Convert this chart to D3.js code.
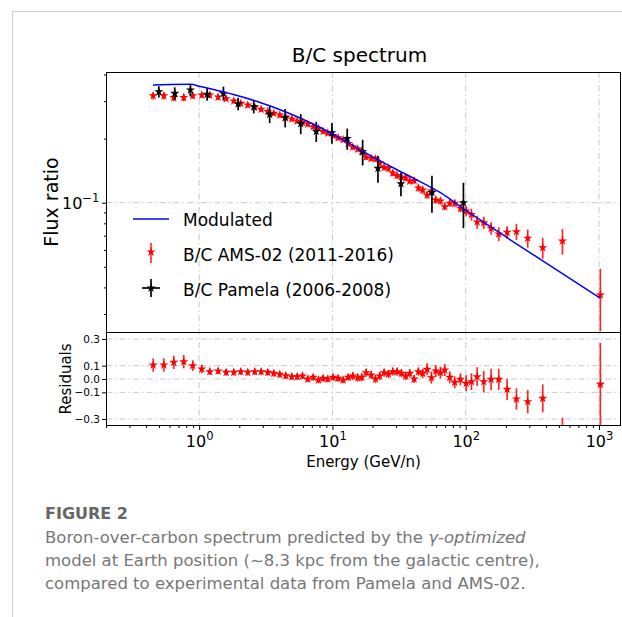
<!DOCTYPE html>
<html>
<head>
<meta charset="utf-8">
<script src="https://cdnjs.cloudflare.com/ajax/libs/d3/7.8.5/d3.min.js"></script>
<style>
body { margin: 0; background: #fff; }
svg { display: block; }
text { font-family: "DejaVu Sans", sans-serif; }
</style>
</head>
<body>
<div id="chart"></div>
<script>
// AMS-02 B/C (2011-2016): kinetic energy per nucleon (GeV/n), ratio, error
var amsE = [0.452,0.543,0.645,0.766,0.895,1.046,1.201,1.388,1.594,1.818,2.051,2.315,2.613,2.919,3.271,3.627,4.024,4.463,4.951,5.435,5.956,6.527,7.166,7.852,8.516,9.221,10.12,11.03,12.03,13.12,14.20,15.48,16.59,17.89,19.51,21.02,22.63,24.42,26.31,28.34,30.58,32.93,35.47,38.01,41.02,44.18,47.58,51.33,55.30,59.56,64.60,69.57,75.86,82.71,91.24,100.7,110.4,121.8,136.5,155.0,176.9,204.5,240.1,291.8,378.2,531.6,1024];
var amsBC = [0.3179,0.3179,0.3118,0.3118,0.3179,0.3203,0.3203,0.3135,0.3078,0.3003,0.2929,0.2875,0.2813,0.2744,0.2680,0.2631,0.2580,0.2525,0.2472,0.2419,0.2379,0.2341,0.2274,0.2230,0.2163,0.2124,0.2067,0.2017,0.1976,0.1896,0.1826,0.1787,0.1739,0.1639,0.1616,0.1607,0.1536,0.1466,0.1447,0.1378,0.1341,0.1320,0.1306,0.1264,0.1268,0.1172,0.1147,0.1087,0.1135,0.1030,0.1019,0.0958,0.0994,0.0994,0.0941,0.0914,0.0880,0.0812,0.0806,0.0758,0.0713,0.0726,0.0731,0.0681,0.0615,0.0661,0.0369];
var amsErr = [0.0127,0.0127,0.0125,0.0125,0.0105,0.0106,0.0106,0.0103,0.0083,0.0081,0.0079,0.0078,0.0076,0.0074,0.0072,0.0071,0.0070,0.0068,0.0067,0.0065,0.0064,0.0063,0.0061,0.0060,0.0058,0.0057,0.0056,0.0054,0.0053,0.0051,0.0060,0.0059,0.0057,0.0054,0.0053,0.0053,0.0051,0.0048,0.0048,0.0045,0.0044,0.0044,0.0043,0.0042,0.0042,0.0046,0.0045,0.0042,0.0044,0.0040,0.0040,0.0037,0.0039,0.0039,0.0041,0.0050,0.0057,0.0057,0.0054,0.0051,0.0053,0.0049,0.0064,0.0067,0.0070,0.0091,0.0120];
var amsRes = [0.105,0.105,0.125,0.13,0.10,0.075,0.055,0.06,0.05,0.05,0.055,0.05,0.055,0.055,0.05,0.0425,0.035,0.025,0.0175,0.0175,0.0225,0.0,0.0125,-0.0075,0.005,0.0,0.0125,0.005,-0.0075,0.0125,0.0225,0.01,0.0125,0.0475,0.03,0.0,0.0225,0.0475,0.0375,0.055,0.055,0.0425,0.0225,0.0425,0.0,0.055,0.0425,0.0725,0.01,0.06,0.0475,0.0675,0.0125,-0.025,-0.0025,-0.0325,-0.02,0.0175,-0.02,-0.0025,-0.0025,-0.0775,-0.15,-0.17,-0.145,-0.40,-0.04];
var amsResErr = [0.05,0.05,0.05,0.05,0.04,0.03,0.025,0.025,0.025,0.025,0.025,0.025,0.025,0.025,0.025,0.025,0.025,0.025,0.025,0.025,0.025,0.025,0.025,0.025,0.025,0.025,0.025,0.025,0.025,0.025,0.03,0.03,0.03,0.03,0.03,0.03,0.03,0.03,0.03,0.03,0.03,0.03,0.03,0.03,0.03,0.03,0.035,0.045,0.045,0.045,0.045,0.045,0.045,0.045,0.045,0.06,0.063,0.07,0.08,0.08,0.08,0.08,0.08,0.087,0.105,0.11,0.31];

// Pamela B/C (2006-2008)
var pamE = [0.498,0.656,0.860,1.148,1.521,1.961,2.568,3.380,4.418,5.783,7.559,9.913,12.91,16.85,21.95,32.65,55.78,96.1];
var pamBC = [0.3320,0.3263,0.3382,0.3231,0.3263,0.2913,0.2823,0.2600,0.2506,0.2353,0.2163,0.2131,0.2001,0.1735,0.1450,0.1228,0.1117,0.1000];
var pamErr = [0.0203,0.0219,0.0227,0.0216,0.0245,0.0195,0.0198,0.0234,0.0248,0.0254,0.0234,0.0237,0.0228,0.0239,0.0210,0.0155,0.0221,0.0241];

// modulated model curve
var modelE = [0.450,0.609,0.860,1.023,1.521,1.808,2.724,4.574,7.679,11.48,20.40,36.35,64.60,99.47,153.2,363.5,1024];
var modelBC = [0.3569,0.3588,0.3596,0.3511,0.3309,0.3221,0.2986,0.2651,0.2291,0.2005,0.1633,0.1349,0.1114,0.0924,0.0771,0.0542,0.0356];

// ticks
var xTicks = [1, 10, 100, 1000];
var xTickExp = ['0', '1', '2', '3'];
var yTicks = [0.1];
var yTickExp = ['\u22121'];
var resTicks = [0.3, 0.1, 0.0, -0.1, -0.3];
var resTickLabels = ['0.3', '0.1', '0.0', '\u22120.1', '\u22120.3'];
var legendLabels = ['Modulated', 'B/C AMS-02 (2011-2016)', 'B/C Pamela (2006-2008)'];
var captionLines = [
    [['Boron-over-carbon spectrum predicted by the ', false], ['\u03b3-optimized', true]],
    [['model at Earth position (~8.3 kpc from the galactic centre),', false]],
    [['compared to experimental data from Pamela and AMS-02.', false]]
];

var width = 622, height = 617;
var plot = {left: 106, right: 621, top: 72, mid: 332, bottom: 426};

var svg = d3.select('#chart').append('svg')
    .attr('width', width)
    .attr('height', height);

var x = d3.scaleLog().domain([0.2, 1462]).range([plot.left, plot.right]);
var y = d3.scaleLog().domain([0.0247, 0.411]).range([plot.mid, plot.top]);
var yRes = d3.scaleLinear().domain([-0.3525, 0.3525]).range([plot.bottom, plot.mid]);

// card border
svg.append('path')
    .attr('d', 'M12.5,617V11.5H622')
    .attr('fill', 'none')
    .attr('stroke', '#cfcfcf')
    .attr('stroke-width', 1);

svg.append('text')
    .attr('x', (plot.left + plot.right) / 2 - 4)
    .attr('y', 62)
    .attr('text-anchor', 'middle')
    .attr('font-size', 20)
    .text('B/C spectrum');

var defs = svg.append('defs');
defs.append('clipPath').attr('id', 'clipMain').append('rect')
    .attr('x', plot.left).attr('y', plot.top)
    .attr('width', plot.right - plot.left).attr('height', plot.mid - plot.top);
defs.append('clipPath').attr('id', 'clipRes').append('rect')
    .attr('x', plot.left).attr('y', plot.mid)
    .attr('width', plot.right - plot.left).attr('height', plot.bottom - plot.mid);

var gridDash = '6,3,1.5,3';
var gridColor = '#c9c9c9';

// grid lines
var grid = svg.append('g');
grid.selectAll('.vgrid')
    .data(xTicks)
    .enter().append('line')
    .attr('x1', function (d) { return x(d); })
    .attr('x2', function (d) { return x(d); })
    .attr('y1', plot.top)
    .attr('y2', plot.bottom);
grid.selectAll('.hgrid')
    .data(yTicks)
    .enter().append('line')
    .attr('x1', plot.left).attr('x2', plot.right)
    .attr('y1', function (d) { return y(d); })
    .attr('y2', function (d) { return y(d); });
grid.selectAll('.rgrid')
    .data(resTicks)
    .enter().append('line')
    .attr('x1', plot.left).attr('x2', plot.right)
    .attr('y1', function (d) { return yRes(d); })
    .attr('y2', function (d) { return yRes(d); });
grid.selectAll('line')
    .attr('stroke', gridColor)
    .attr('stroke-width', 1)
    .attr('stroke-dasharray', gridDash);

var star = d3.symbol().type(d3.symbolStar).size(26);

function drawErrorPoints(g, xs, ys, errs, yScale, color, barOpacity, isLog) {
    var pts = xs.map(function (e, i) { return {e: e, v: ys[i], err: errs[i]}; });
    g.selectAll('.bar')
        .data(pts)
        .enter().append('line')
        .attr('x1', function (d) { return x(d.e); })
        .attr('x2', function (d) { return x(d.e); })
        .attr('y1', function (d) { return yScale(d.v + d.err); })
        .attr('y2', function (d) {
            var lo = d.v - d.err;
            return yScale(isLog ? Math.max(lo, 1e-4) : lo);
        })
        .attr('stroke', color)
        .attr('stroke-opacity', barOpacity)
        .attr('stroke-width', 1.7);
    g.selectAll('.pt')
        .data(pts)
        .enter().append('path')
        .attr('d', star)
        .attr('transform', function (d) { return 'translate(' + x(d.e) + ',' + yScale(d.v) + ')'; })
        .attr('fill', color);
}

// main panel
var main = svg.append('g').attr('clip-path', 'url(#clipMain)');
drawErrorPoints(main.append('g'), amsE, amsBC, amsErr, y, '#ff0000', 0.85, true);
drawErrorPoints(main.append('g'), pamE, pamBC, pamErr, y, '#000000', 1, true);

var line = d3.line()
    .x(function (d) { return x(d[0]); })
    .y(function (d) { return y(d[1]); })
    .curve(d3.curveMonotoneX);
main.append('path')
    .datum(modelE.map(function (e, i) { return [e, modelBC[i]]; }))
    .attr('d', line)
    .attr('fill', 'none')
    .attr('stroke', '#0000ff')
    .attr('stroke-width', 1.5);

// residual panel
var res = svg.append('g').attr('clip-path', 'url(#clipRes)');
drawErrorPoints(res.append('g'), amsE, amsRes, amsResErr, yRes, '#ff0000', 0.85, false);

// frames
svg.append('rect')
    .attr('x', plot.left + 0.5).attr('y', plot.top + 0.5)
    .attr('width', plot.right - plot.left - 1).attr('height', plot.mid - plot.top)
    .attr('fill', 'none').attr('stroke', '#000').attr('stroke-width', 1);
svg.append('rect')
    .attr('x', plot.left + 0.5).attr('y', plot.mid + 0.5)
    .attr('width', plot.right - plot.left - 1).attr('height', plot.bottom - plot.mid - 1)
    .attr('fill', 'none').attr('stroke', '#000').attr('stroke-width', 1);

// axes
var xMinor = [];
[0.1, 1, 10, 100].forEach(function (dec) {
    for (var k = 2; k <= 9; k++) xMinor.push(dec * k);
});
var yMinor = [0.03, 0.04, 0.05, 0.06, 0.07, 0.08, 0.09, 0.2, 0.3, 0.4];

function tickAxis(axis, tx, ty) {
    var g = svg.append('g').attr('transform', 'translate(' + tx + ',' + ty + ')').call(axis);
    g.select('.domain').remove();
    g.selectAll('line').attr('stroke', '#000');
    return g;
}

tickAxis(d3.axisBottom(x).tickValues(xMinor.filter(function (d) { return d >= 0.2 && d <= 1462; })).tickSize(2).tickFormat(''), 0, plot.bottom);
var xAx = tickAxis(d3.axisBottom(x).tickValues(xTicks).tickSize(4).tickFormat(''), 0, plot.bottom);
xAx.selectAll('.tick').append('text')
    .attr('y', 21)
    .attr('text-anchor', 'middle')
    .attr('fill', '#000')
    .attr('font-size', 16)
    .each(function (d, i) {
        var t = d3.select(this);
        t.append('tspan').text('10');
        t.append('tspan').attr('dy', -7).attr('font-size', 11.5).text(xTickExp[i]);
    });

tickAxis(d3.axisLeft(y).tickValues(yMinor).tickSize(2).tickFormat(''), plot.left, 0);
var yAx = tickAxis(d3.axisLeft(y).tickValues(yTicks).tickSize(4).tickFormat(''), plot.left, 0);
yAx.selectAll('.tick').append('text')
    .attr('x', -44)
    .attr('y', 6)
    .attr('text-anchor', 'start')
    .attr('fill', '#000')
    .attr('font-size', 16)
    .each(function (d, i) {
        var t = d3.select(this);
        t.append('tspan').text('10');
        t.append('tspan').attr('dy', -7).attr('font-size', 11.5).text(yTickExp[i]);
    });

var rAx = tickAxis(d3.axisLeft(yRes).tickValues(resTicks).tickSize(4)
    .tickFormat(function (d, i) { return resTickLabels[i]; }), plot.left, 0);
rAx.selectAll('text').attr('font-size', 10.5).attr('x', -6);

svg.append('text')
    .attr('transform', 'translate(58,' + (plot.top + plot.mid) / 2 + ') rotate(-90)')
    .attr('text-anchor', 'middle')
    .attr('font-size', 19)
    .text('Flux ratio');
svg.append('text')
    .attr('transform', 'translate(71,' + (plot.mid + plot.bottom) / 2 + ') rotate(-90)')
    .attr('text-anchor', 'middle')
    .attr('font-size', 15)
    .text('Residuals');
svg.append('text')
    .attr('x', (plot.left + plot.right) / 2)
    .attr('y', 467)
    .attr('text-anchor', 'middle')
    .attr('font-size', 15)
    .text('Energy (GeV/n)');

// legend
var legend = svg.append('g').attr('transform', 'translate(133,219)');
legend.append('line')
    .attr('x1', 0).attr('x2', 36).attr('y1', 0).attr('y2', 0)
    .attr('stroke', '#0000ff').attr('stroke-width', 1.5);
legend.append('line')
    .attr('x1', 18).attr('x2', 18).attr('y1', 24).attr('y2', 44)
    .attr('stroke', '#ff0000').attr('stroke-opacity', 0.8).attr('stroke-width', 1.7);
legend.append('path').attr('d', star).attr('transform', 'translate(18,33)').attr('fill', '#ff0000');
legend.append('line')
    .attr('x1', 9).attr('x2', 27).attr('y1', 69).attr('y2', 69)
    .attr('stroke', '#000').attr('stroke-width', 1.7);
legend.append('line')
    .attr('x1', 18).attr('x2', 18).attr('y1', 60).attr('y2', 78)
    .attr('stroke', '#000').attr('stroke-width', 1.7);
legend.append('path').attr('d', star).attr('transform', 'translate(18,69)').attr('fill', '#000');
legend.selectAll('.lab')
    .data(legendLabels)
    .enter().append('text')
    .attr('x', 50)
    .attr('y', function (d, i) { return 7 + i * 35; })
    .attr('font-family', '"Comic Sans MS", "Comic Neue", "DejaVu Sans", sans-serif')
    .attr('font-size', 17)
    .text(function (d) { return d; });

// caption
var cap = svg.append('g');
cap.append('text')
    .attr('x', 45).attr('y', 519)
    .attr('font-family', '"Open Sans", Lato, sans-serif')
    .attr('font-size', 16)
    .attr('font-weight', 600)
    .attr('fill', '#666')
    .text('FIGURE 2');
captionLines.forEach(function (parts, i) {
    var t = cap.append('text')
        .attr('x', 45).attr('y', 543 + i * 23)
        .attr('font-family', '"Open Sans", Lato, sans-serif')
        .attr('font-size', 16.5)
        .attr('fill', '#777');
    parts.forEach(function (p) {
        t.append('tspan').attr('font-style', p[1] ? 'italic' : 'normal').text(p[0]);
    });
});
</script>
</body>
</html>
